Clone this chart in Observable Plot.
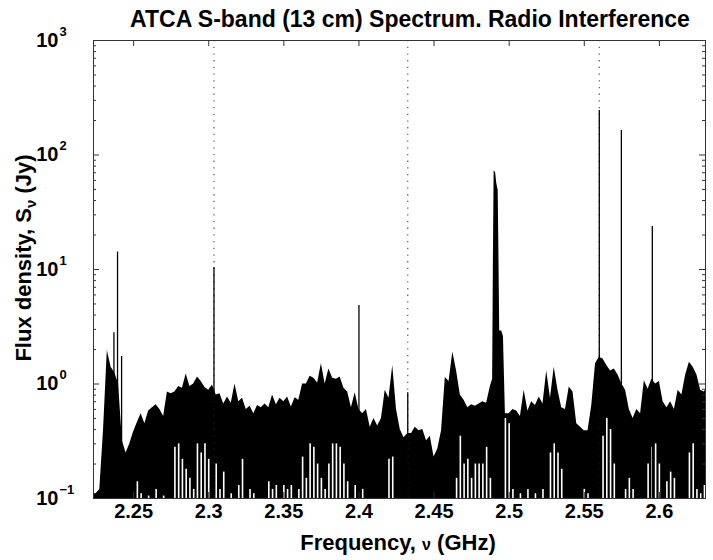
<!DOCTYPE html>
<html><head><meta charset="utf-8">
<script src="https://cdn.jsdelivr.net/npm/d3@7"></script>
<script src="https://cdn.jsdelivr.net/npm/@observablehq/plot@0.6"></script>
<style>body{margin:0;background:#fff}</style>
</head><body><div id="chart"></div>
<script>
// Spectrum envelope (frequency in GHz, flux density in Jy)
const freq = [
  2.2225,2.225,2.2275,2.23,2.2325,2.235,2.2375,2.24,2.2425,2.245,
  2.2475,2.25,2.2525,2.255,2.2575,2.26,2.2625,2.265,2.2675,2.27,
  2.2725,2.275,2.2775,2.28,2.2825,2.285,2.2875,2.29,2.2925,2.295,
  2.2975,2.30,2.3025,2.305,2.3075,2.31,2.3125,2.315,2.3175,2.32,
  2.3225,2.325,2.3275,2.33,2.3325,2.335,2.3375,2.34,2.3425,2.345,
  2.3475,2.35,2.3525,2.355,2.3575,2.36,2.3625,2.365,2.3675,2.37,
  2.3725,2.375,2.3775,2.38,2.3825,2.385,2.3875,2.39,2.3925,2.395,
  2.3975,2.40,2.4025,2.405,2.4075,2.41,2.4125,2.415,2.4175,2.42,
  2.4225,2.425,2.4275,2.43,2.4325,2.435,2.4375,2.44,2.4425,2.445,
  2.4475,2.45,2.4525,2.455,2.4575,2.46,2.4625,2.465,2.4675,2.47,
  2.4725,2.475,2.4775,2.48,2.4825,2.485,2.4875,
  2.489,2.4895,2.49,2.491,2.4917,2.4927,2.4932,2.4937,2.495,2.4962,
  2.4975,2.50,2.5025,2.505,2.5075,2.51,2.5125,2.515,2.5175,2.52,
  2.5225,2.525,2.5275,2.53,2.5325,2.535,2.5375,2.54,2.5425,2.545,
  2.5475,2.55,2.5525,2.555,2.5575,2.56,2.5625,2.565,2.5675,2.57,
  2.5725,2.575,2.5775,2.58,2.5825,2.585,2.5875,2.59,2.5925,2.595,
  2.5975,2.60,2.6025,2.605,2.6075,2.61,2.6125,2.615,2.6175,2.62,
  2.6225,2.625,2.6275,2.63,2.6325
];
const fluxHigh = [
  0.11,0.11,0.12,0.4,1.96,1.4,1.25,1.0,0.32,0.25,
  0.30,0.38,0.46,0.55,0.45,0.58,0.62,0.66,0.6,0.52,
  0.85,0.82,0.85,0.95,0.92,1.22,0.95,1.0,1.15,1.05,
  0.93,0.88,0.98,0.8,0.82,0.67,0.77,0.68,1.0,0.7,
  0.75,0.6,0.64,0.55,0.65,0.62,0.67,0.62,0.8,0.66,
  0.75,0.7,0.77,0.63,0.76,0.72,1.0,1.0,1.17,1.12,
  1.02,1.5,1.0,1.35,1.12,1.1,1.15,0.92,0.85,0.62,
  0.84,0.6,0.55,0.6,0.42,0.5,0.43,0.5,0.88,0.75,
  1.45,0.6,0.4,0.34,0.37,0.37,0.42,0.39,0.4,0.32,
  0.35,0.23,0.27,0.39,1.14,1.05,1.9,1.3,0.8,0.72,
  0.62,0.66,0.64,0.67,0.7,0.68,0.95,
  1.1,12,73,70,57,49,13,2.9,2.9,2.6,
  0.55,0.55,0.6,0.58,0.52,0.88,0.58,0.7,0.65,0.77,
  0.67,1.3,0.75,1.4,0.88,0.62,0.6,0.94,0.85,0.45,
  0.42,0.39,0.39,0.65,1.5,1.71,1.65,1.45,1.3,1.35,
  1.2,1.0,0.88,0.6,0.5,0.6,0.55,1.07,0.9,1.1,
  1.0,1.05,0.7,0.62,0.7,0.6,0.88,0.8,1.2,1.55,
  1.4,1.2,0.88,0.85,1.0
];
// Top of the thin white gaps that reach down to the axis floor
const fluxLow = [
  0.1,0.1,0.1,0.1,0.1,0.1,0.1,0.1,0.1,0.1,
  0.1,0.1,0.14,0.11,0.1,0.105,0.1,0.12,0.1,0.105,
  0.1,0.1,0.28,0.3,0.22,0.18,0.15,0.12,0.3,0.25,
  0.3,0.22,0.1,0.2,0.12,0.17,0.1,0.11,0.1,0.13,
  0.22,0.1,0.12,0.11,0.1,0.1,0.1,0.14,0.12,0.13,
  0.1,0.13,0.12,0.13,0.1,0.12,0.23,0.15,0.3,0.28,
  0.2,0.15,0.12,0.2,0.3,0.3,0.28,0.2,0.14,0.1,
  0.13,0.1,0.12,0.1,0.1,0.1,0.1,0.1,0.1,0.22,
  0.23,0.1,0.1,0.1,0.1,0.1,0.1,0.1,0.1,0.1,
  0.1,0.1,0.1,0.1,0.1,0.1,0.1,0.15,0.35,0.2,
  0.22,0.15,0.2,0.2,0.2,0.28,0.15,
  0.1,0.1,0.1,0.1,0.1,0.1,0.1,0.1,0.1,0.1,
  0.5,0.45,0.12,0.1,0.11,0.1,0.12,0.1,0.11,0.1,
  0.12,0.1,0.25,0.3,0.25,0.18,0.1,0.1,0.1,0.1,
  0.1,0.12,0.11,0.1,0.1,0.1,0.35,0.5,0.4,0.2,
  0.1,0.1,0.12,0.15,0.12,0.1,0.1,0.1,0.2,0.28,
  0.3,0.2,0.1,0.14,0.17,0.15,0.1,0.1,0.1,0.25,
  0.3,0.12,0.11,0.13,0.1
];
// Narrow interference spikes
const spikeFreq = [2.2369, 2.2393, 2.2420, 2.3035, 2.4000, 2.4325, 2.5600, 2.5747, 2.5953];
const spikeFlux = [2.8, 14.2, 1.74, 10.4, 4.85, 0.84, 245, 164, 23.8];
// Dotted marker lines
const markerFreq = [2.3035, 2.4325, 2.56];
// Axes
const freqTicks = [2.25, 2.3, 2.35, 2.4, 2.45, 2.5, 2.55, 2.6];
const fluxTicks = [0.1, 1, 10, 100, 1000];
const fluxTickExp = ["\u22121", "0", "1", "2", "3"];
const minorMult = [2, 3, 4, 5, 6, 7, 8, 9];

const floor = fluxTicks[0];
const spectrum = freq.map((f, i) => ({f, hi: fluxHigh[i], lo: fluxLow[i]}));
const gaps = spectrum.filter(d => d.lo > floor);
const spikes = spikeFreq.map((f, i) => ({f, v: spikeFlux[i]}));
const minorTicks = fluxTicks.slice(0, -1).flatMap(d => minorMult.map(m => d * m));
const yTicks = fluxTicks.map((v, i) => ({v, e: fluxTickExp[i]}));

const FONT = "'Liberation Sans', Arial, Helvetica, sans-serif";
const W = 713, H = 560, mL = 93, mR = 8, mT = 40, mB = 62;
const pw = W - mL - mR, ph = H - mT - mB;
const tc = "#333";

const chart = Plot.plot({
  width: W, height: H,
  marginLeft: mL, marginRight: mR, marginTop: mT, marginBottom: mB,
  style: {fontFamily: FONT, background: "#fff", color: "#000", fontWeight: "bold"},
  x: {domain: [2.2233, 2.6307], axis: null},
  y: {type: "log", domain: [0.1, 1000], axis: null},
  marks: [
    Plot.areaY(spectrum, {x: "f", y1: () => floor, y2: "hi", fill: "#000", clip: true}),
    Plot.ruleX(gaps, {x: "f", y1: () => floor, y2: "lo", stroke: "#fff", strokeWidth: 1.6, clip: true}),
    Plot.ruleX(markerFreq, {x: d => d, stroke: "#555", strokeWidth: 1.2, strokeDasharray: "1.3,5.4"}),
    Plot.ruleX(spikes, {x: "f", y1: () => floor, y2: "v", stroke: "#000", strokeWidth: 1.3, clip: true}),
    // inward ticks
    Plot.ruleX(freqTicks, {x: d => d, insetTop: ph - 6, stroke: tc}),
    Plot.ruleX(freqTicks, {x: d => d, insetBottom: ph - 6, stroke: tc}),
    Plot.ruleY(fluxTicks, {y: d => d, insetRight: pw - 6, stroke: tc}),
    Plot.ruleY(fluxTicks, {y: d => d, insetLeft: pw - 6, stroke: tc}),
    Plot.ruleY(minorTicks, {y: d => d, insetRight: pw - 3, stroke: tc}),
    Plot.ruleY(minorTicks, {y: d => d, insetLeft: pw - 3, stroke: tc}),
    Plot.frame({stroke: tc, strokeWidth: 1}),
    // tick labels
    Plot.text(freqTicks, {x: d => d, frameAnchor: "bottom", dy: 19, text: d => String(d), fontSize: 20, fontWeight: "bold", fill: "#000"}),
    Plot.text(yTicks, {y: "v", frameAnchor: "left", dx: -35, textAnchor: "end", text: () => "10", fontSize: 20, fontWeight: "bold", fill: "#000"}),
    Plot.text(yTicks, {y: "v", frameAnchor: "left", dx: -34, dy: -9, textAnchor: "start", text: "e", fontSize: 13, fontWeight: "bold", fill: "#000"})
  ]
});

document.getElementById("chart").appendChild(chart);

const svg = d3.select(chart.tagName.toLowerCase() === "svg" ? chart : chart.querySelector("svg"));
svg.append("text")
  .attr("x", 410).attr("y", 27).attr("text-anchor", "middle")
  .style("font-family", FONT).style("font-size", "23px").style("font-weight", "bold").attr("fill", "#000")
  .text("ATCA S-band (13 cm) Spectrum. Radio Interference");

const xl = svg.append("text")
  .attr("x", 398).attr("y", 550).attr("text-anchor", "middle")
  .style("font-family", FONT).style("font-size", "22px").style("font-weight", "bold").attr("fill", "#000");
xl.append("tspan").text("Frequency, ");
xl.append("tspan").style("font-size", "16px").text("\u03bd");
xl.append("tspan").text(" (GHz)");

const yl = svg.append("text")
  .attr("transform", "translate(31,258) rotate(-90)").attr("text-anchor", "middle")
  .style("font-family", FONT).style("font-size", "22px").style("font-weight", "bold").attr("fill", "#000");
yl.append("tspan").text("Flux density, S");
yl.append("tspan").attr("dy", 5).style("font-size", "15px").text("\u03bd");
yl.append("tspan").attr("dy", -5).text(" (Jy)");
</script>
</body></html>
